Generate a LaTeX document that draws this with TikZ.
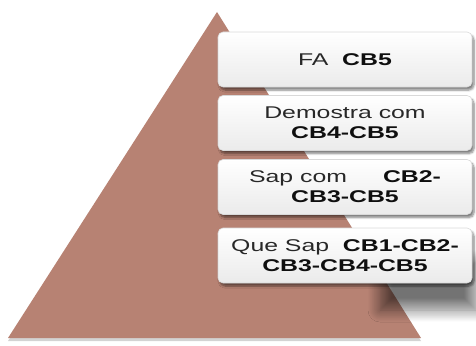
\documentclass[tikz,border=0pt]{standalone}
\usepackage{fontspec}
\setmainfont[FakeStretch=1.46]{Liberation Sans}
\usetikzlibrary{shadows,shadows.blur}
\definecolor{pyr}{RGB}{183,130,115}
\definecolor{txt}{RGB}{40,40,40}
\definecolor{bld}{RGB}{15,15,15}
\newcommand\bk[1]{\textbf{\color{bld}#1}}
\begin{document}
\begin{tikzpicture}[x=1pt,y=-1pt,
  tier/.style={rounded corners=5pt, top color=white, bottom color=gray!16,
    draw=gray!30, line width=0.6pt, minimum width=254pt, minimum height=55pt,
    align=center, inner sep=0pt, font=\fontsize{17}{20}\selectfont, text=txt,
    blur shadow={shadow xshift=2pt, shadow yshift=-3pt, shadow blur steps=6, shadow opacity=50}}]
\useasboundingbox (0,0) rectangle (476,345);
\fill[pyr, drop shadow={shadow xshift=0pt, shadow yshift=-3pt, opacity=0.35}] (217,12) -- (421,338) -- (8,338) -- cycle;
\path[blur shadow={shadow xshift=0pt, shadow yshift=0pt, shadow blur radius=12pt, shadow blur steps=14, shadow opacity=55}] (380,262) rectangle (476,310);
\node[tier] (t4) at (345,255.5) {Que Sap\ \ \bk{CB1-CB2-}\\\bk{CB3-CB4-CB5}};
\node[tier] (t3) at (345,187) {Sap com\hspace{36pt}\bk{CB2-}\\\bk{CB3-CB5}};
\node[tier] (t2) at (345,123) {Demostra com\\\bk{CB4-CB5}};
\node[tier] (t1) at (345,59.5) {FA\ \ \bk{CB5}};
\end{tikzpicture}
\end{document}
